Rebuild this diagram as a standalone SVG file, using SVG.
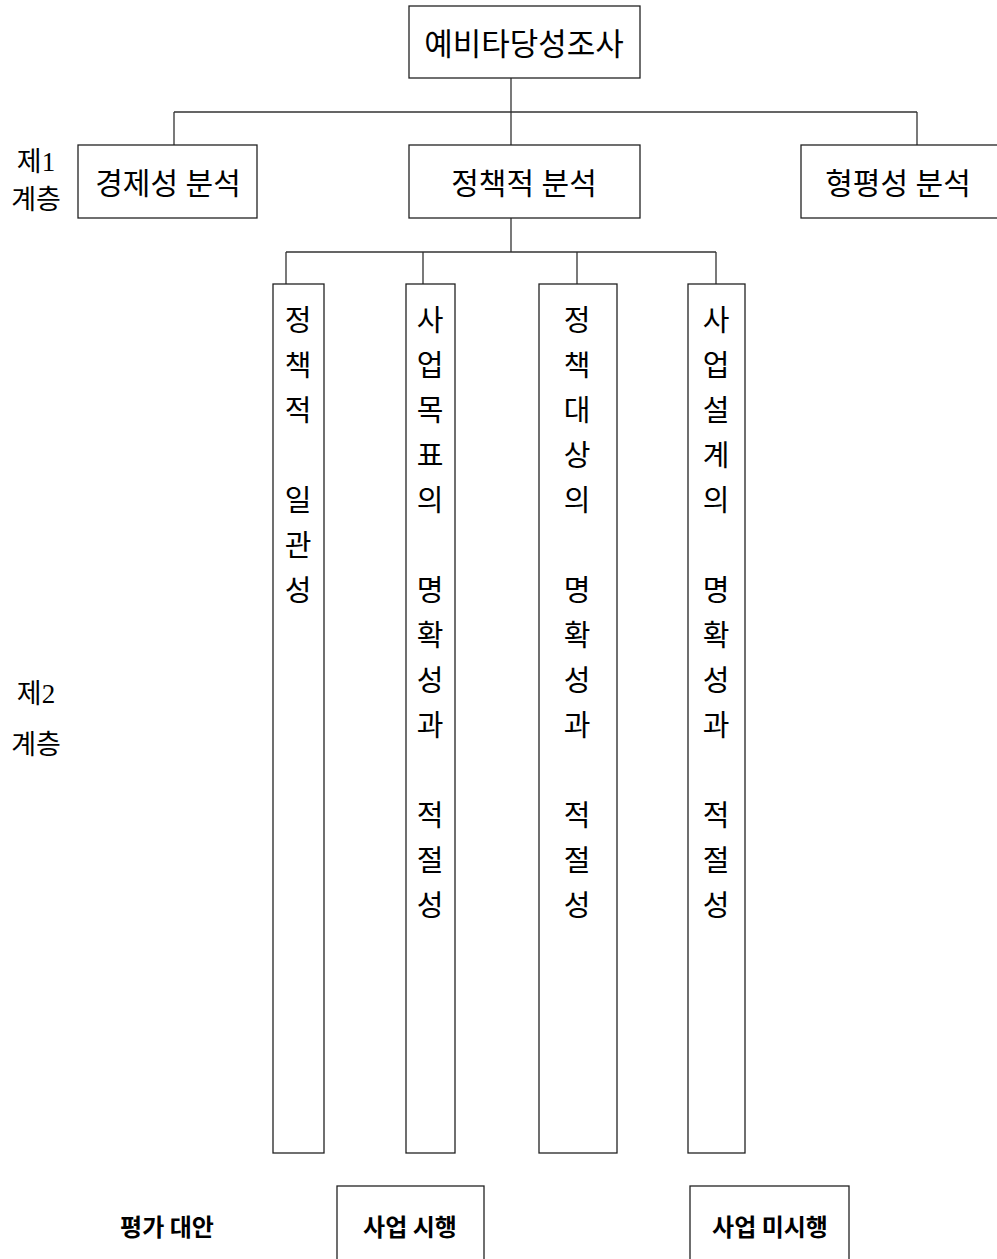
<svg xmlns="http://www.w3.org/2000/svg" width="997" height="1259" viewBox="0 0 997 1259">
<style>
.box{fill:#fff;stroke:#222;stroke-width:1.3}
.ln{fill:none;stroke:#333;stroke-width:1.3}
.t{font-family:"Liberation Serif","Noto Sans CJK KR",serif;fill:#000;text-anchor:middle;dominant-baseline:central}
.h{font-size:31px}
.m{font-size:30px}
.v{font-size:29px}
.lab{font-size:27px}
.b{font-family:"Noto Sans CJK KR",sans-serif;font-weight:bold;font-size:24px;fill:#000;text-anchor:middle;dominant-baseline:central}
</style>
<rect width="997" height="1259" fill="#fff"/>
<g id="connectors">
<path class="ln" d="M511,78V112M174,112H917M174,112V145M511,112V145M917,112V145"/>
<path class="ln" d="M511,218V252M286,252H716M286,252V284M423,252V284M577,252V284M716,252V284"/>
</g>
<g id="root"><rect class="box" x="409" y="6" width="231" height="72"/><text class="t h" x="524" y="44">예비타당성조사</text></g>
<g id="econ"><rect class="box" x="78" y="145" width="179" height="73"/><text class="t m" x="168" y="183">경제성 분석</text></g>
<g id="policy"><rect class="box" x="409" y="145" width="231" height="73"/><text class="t m" x="524" y="183">정책적 분석</text></g>
<g id="equity"><rect class="box" x="801" y="145" width="200" height="73"/><text class="t m" x="898" y="183">형평성 분석</text></g>
<g id="level1"><text class="t lab" x="36" y="162">제1</text><text class="t lab" x="36" y="200">계층</text></g>
<g id="level2"><text class="t lab" x="36" y="694">제2</text><text class="t lab" x="36" y="745">계층</text></g>
<g id="c1"><rect class="box" x="273" y="284" width="51" height="869"/>
<g class="t v"><text x="298" y="321">정</text><text x="298" y="366">책</text><text x="298" y="411">적</text><text x="298" y="501">일</text><text x="298" y="546">관</text><text x="298" y="591">성</text></g></g>
<g id="c2"><rect class="box" x="406" y="284" width="49" height="869"/>
<g class="t v"><text x="430" y="321">사</text><text x="430" y="366">업</text><text x="430" y="411">목</text><text x="430" y="456">표</text><text x="430" y="501">의</text><text x="430" y="591">명</text><text x="430" y="636">확</text><text x="430" y="681">성</text><text x="430" y="726">과</text><text x="430" y="816">적</text><text x="430" y="861">절</text><text x="430" y="906">성</text></g></g>
<g id="c3"><rect class="box" x="539" y="284" width="78" height="869"/>
<g class="t v"><text x="577" y="321">정</text><text x="577" y="366">책</text><text x="577" y="411">대</text><text x="577" y="456">상</text><text x="577" y="501">의</text><text x="577" y="591">명</text><text x="577" y="636">확</text><text x="577" y="681">성</text><text x="577" y="726">과</text><text x="577" y="816">적</text><text x="577" y="861">절</text><text x="577" y="906">성</text></g></g>
<g id="c4"><rect class="box" x="688" y="284" width="57" height="869"/>
<g class="t v"><text x="716" y="321">사</text><text x="716" y="366">업</text><text x="716" y="411">설</text><text x="716" y="456">계</text><text x="716" y="501">의</text><text x="716" y="591">명</text><text x="716" y="636">확</text><text x="716" y="681">성</text><text x="716" y="726">과</text><text x="716" y="816">적</text><text x="716" y="861">절</text><text x="716" y="906">성</text></g></g>
<g id="alt"><text class="b" x="167" y="1225">평가 대안</text></g>
<g id="do"><rect class="box" x="337" y="1186" width="147" height="90"/><text class="b" x="410" y="1225">사업 시행</text></g>
<g id="dont"><rect class="box" x="690" y="1186" width="159" height="90"/><text class="b" x="770" y="1225">사업 미시행</text></g>
</svg>
